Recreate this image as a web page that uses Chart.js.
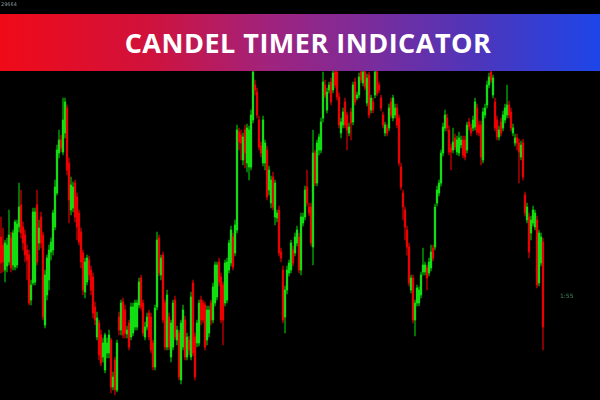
<!DOCTYPE html>
<html>
<head>
<meta charset="utf-8">
<title>Candel Timer Indicator</title>
<script src="https://cdn.jsdelivr.net/npm/chart.js@4.4.1/dist/chart.umd.min.js"></script>
<style>
  html, body { margin: 0; padding: 0; background: #000; }
  #wrap { position: relative; width: 600px; height: 400px; background: #000; overflow: hidden; }
  #grafico-velas { position: absolute; left: 0; top: 0; }
  #banner {
    position: absolute; left: 0; top: 14px; width: 584px; height: 57px; padding-left: 16px;
    background: linear-gradient(90deg, #f00a18 0%, #d0123c 25%, #a0237e 45%, #7a2c9c 62%, #4c36bc 80%, #1d45e8 100%);
    color: #fff; font-family: "Open Sans", sans-serif; font-weight: 700;
    font-size: 27px; line-height: 57px; text-align: center; letter-spacing: 0.5px;
  }
  #precio { position: absolute; left: 1px; top: 1px; font: 5px "DejaVu Sans", sans-serif; color: #8a98a0; }
  #timer { position: absolute; left: 560px; top: 292px; font: 6px "DejaVu Sans", sans-serif; color: #3f8a5e; }
</style>
</head>
<body>
<div id="wrap">
  <canvas id="grafico-velas" width="600" height="400"></canvas>
  <div id="banner">CANDEL TIMER INDICATOR</div>
  <div id="precio">29664</div>
  <div id="timer">1:55</div>
</div>
<script>
// valores de las velas
const opens = [163,155,130,134,138,162,135,133,135,173,195,173,165,150,145,100,117,118,195,157,183,165,75,105,120,148,150,173,207,247,
  260,248,267,292,237,190,192,217,203,187,168,147,108,118,140,130,123,93,63,77,65,43,30,47,47,60,13,40,10,83,
  70,98,90,66,77,63,67,73,73,95,122,97,63,73,87,83,57,33,93,162,125,145,97,53,83,43,53,100,60,67,
  20,53,80,43,60,43,117,63,57,57,100,97,95,60,67,97,80,97,103,138,123,115,97,100,130,137,163,147,170,268,
  265,240,270,237,233,233,280,315,308,280,254,237,237,250,210,197,223,183,182,190,148,130,83,110,127,130,150,147,157,163,
  130,177,183,213,193,193,153,247,217,250,250,282,315,290,310,318,310,328,328,303,267,275,298,285,267,288,278,318,302,305,
  328,317,328,297,325,290,298,305,328,315,302,285,267,272,272,298,282,285,292,282,233,207,190,170,153,110,122,80,97,97,
  105,128,128,132,127,132,152,153,197,207,217,247,272,282,270,252,250,262,248,247,255,260,260,250,278,272,272,273,292,275,
  275,240,285,295,315,328,305,298,280,263,278,272,280,285,295,288,267,257,262,257,243,257,205,180,183,167,177,173,180,117,
  137,158];
const closes = [137,138,157,155,165,132,167,178,176,193,167,157,145,140,97,115,188,188,138,172,157,83,125,142,150,158,187,213,250,260,
  252,280,298,230,200,215,213,183,173,158,138,110,138,142,125,110,87,80,82,45,37,57,65,57,65,13,23,10,57,70,
  97,65,67,70,53,93,93,97,97,118,93,67,73,83,63,50,33,92,160,127,142,80,53,105,53,77,97,63,70,23,
  77,90,43,63,50,103,47,23,77,97,80,80,53,90,90,80,113,135,135,118,80,80,137,138,157,170,133,175,270,258,
  257,263,247,272,270,285,328,310,285,253,247,280,257,203,230,220,193,217,187,147,142,80,110,130,137,157,137,163,170,130,
  183,183,210,197,187,157,247,217,257,263,278,318,305,308,315,298,327,315,303,275,278,288,275,270,273,277,315,298,305,323,
  320,328,313,322,285,302,290,328,307,310,292,275,275,267,292,285,302,292,275,237,213,193,173,153,117,122,80,97,112,110,
  125,135,135,122,138,148,142,193,210,217,247,273,285,272,248,248,258,253,260,262,260,245,243,275,273,267,280,298,268,267,
  243,288,292,315,323,320,322,272,263,270,267,285,292,295,285,272,272,262,257,248,255,223,187,193,148,180,190,187,115,167,
  163,73];
const highs = [183,172,160,162,190,168,170,180,180,217,210,178,170,155,150,120,192,192,210,180,188,168,130,145,155,162,190,220,255,270,
  265,302,302,295,242,223,218,220,207,190,172,150,142,145,144,134,127,98,88,80,70,62,67,62,70,62,28,43,60,88,
  100,102,95,74,80,97,97,100,100,122,125,100,78,87,90,87,60,95,168,165,145,148,100,110,87,80,100,104,74,70,
  80,95,84,67,64,108,120,67,80,100,104,100,98,94,94,100,117,138,138,142,127,118,140,142,160,174,167,180,275,272,
  270,267,275,276,274,290,330,320,312,284,258,284,260,254,234,224,228,220,190,194,152,134,114,134,140,160,154,167,174,167,
  187,187,214,230,197,197,270,250,260,266,282,328,320,312,318,322,330,330,330,307,282,292,302,288,277,292,318,322,308,327,
  330,330,330,326,328,305,302,330,330,318,305,288,278,276,296,302,305,296,296,285,237,210,193,174,157,125,125,100,115,113,
  128,152,138,135,142,155,155,196,214,220,250,277,290,286,274,256,272,266,264,268,264,264,264,278,282,276,284,302,296,279,
  279,292,296,319,327,330,325,302,284,274,282,289,296,315,299,292,276,266,266,261,259,261,208,197,187,184,194,190,184,170,
  167,162];
const lows = [127,128,118,128,135,128,130,130,132,168,162,150,138,120,95,95,115,115,135,150,152,80,72,100,110,140,145,170,205,242,
  248,245,262,225,177,185,188,178,160,155,132,105,102,115,120,105,82,75,60,40,34,38,27,42,42,7,10,5,8,65,
  65,62,62,62,50,60,64,70,70,92,90,64,60,70,60,47,30,30,90,124,120,77,50,50,50,38,50,60,55,20,
  16,50,40,40,45,40,44,20,53,54,75,77,50,55,63,75,77,94,100,114,77,55,94,97,127,134,130,144,167,250,
  240,235,232,228,220,230,277,305,282,250,243,234,230,200,205,192,190,175,178,144,138,77,67,106,124,127,134,144,154,127,
  125,174,180,194,184,154,135,214,214,245,247,278,302,287,307,295,307,312,300,272,262,272,272,250,264,260,275,295,300,302,
  317,314,310,294,282,287,287,302,304,307,289,272,264,264,269,282,279,282,272,234,210,180,160,145,114,107,77,64,94,94,
  102,125,125,110,124,129,139,150,194,204,214,244,269,269,245,230,247,250,245,244,252,242,240,247,270,264,269,270,265,264,
  235,237,282,292,312,317,302,269,260,260,264,269,277,282,282,269,264,254,250,217,240,220,184,177,142,160,174,170,112,114,
  134,50];

// categorias: una vela cada 2 px (300 posiciones, el resto queda vacio a la derecha)
const categorias = [];
for (let i = 0; i < 300; i++) categorias.push('v' + (i + 1));

const verde = 'rgb(18,222,18)';
const rojo = 'rgb(236,0,0)';
const verdeMecha = 'rgb(0,140,0)';
const rojoMecha = 'rgb(160,0,0)';

function esAlcista(i) { return closes[i] >= opens[i]; }

const ctx = document.getElementById('grafico-velas');
new Chart(ctx, {
  type: 'bar',
  data: {
    labels: categorias,
    datasets: [{
      label: 'mechas',
      data: lows.map((l, i) => [l, highs[i]]),
      backgroundColor: lows.map((l, i) => esAlcista(i) ? verdeMecha : rojoMecha),
      barThickness: 1,
      grouped: false,
      order: 2
    }, {
      label: 'cuerpos',
      data: opens.map((o, i) => [o, closes[i]]),
      backgroundColor: opens.map((o, i) => esAlcista(i) ? verde : rojo),
      barThickness: 1.6,
      grouped: false,
      order: 1
    }]
  },
  options: {
    responsive: false,
    animation: false,
    layout: { padding: 0 },
    plugins: { legend: { display: false }, tooltip: { enabled: false } },
    scales: {
      x: { display: false, offset: true },
      y: { display: false, min: 0, max: 400 }
    }
  }
});
</script>
</body>
</html>
